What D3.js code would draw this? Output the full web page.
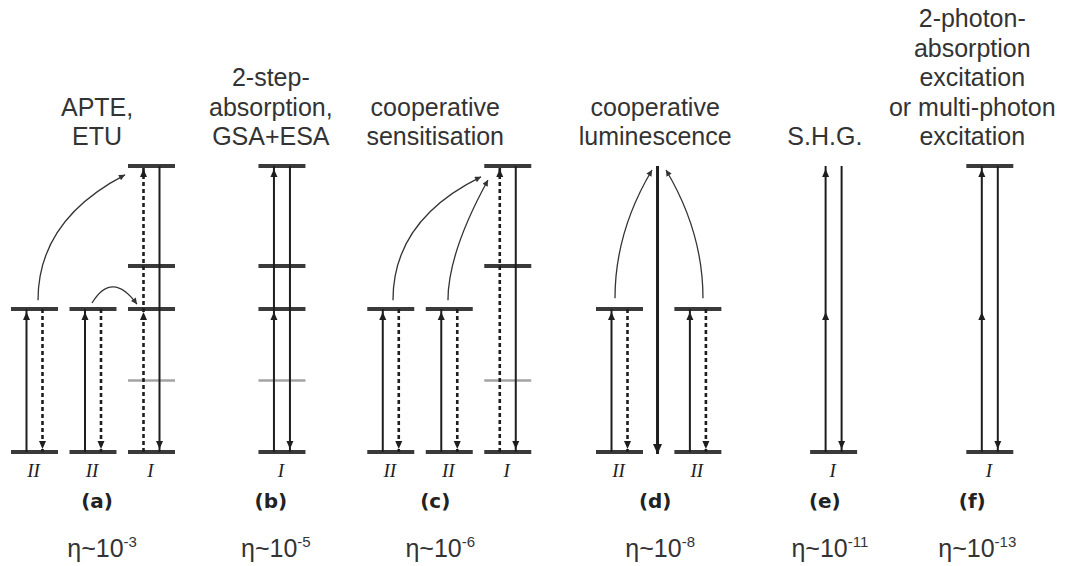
<!DOCTYPE html>
<html>
<head>
<meta charset="utf-8">
<script src="https://cdn.jsdelivr.net/npm/d3@7"></script>
<style>
  body { margin: 0; background: #fff; }
  .title { font-family: "Liberation Sans", Arial, sans-serif; font-size: 25px; fill: #333; }
  .eta { font-family: "Liberation Sans", Arial, sans-serif; font-size: 25px; fill: #333; }
  .panel-label { font-family: "DejaVu Sans", sans-serif; font-weight: bold; font-size: 20px; fill: #222; }
  .ion { font-family: "Liberation Serif", serif; font-style: italic; font-size: 19px; fill: #222; }
</style>
</head>
<body>
<svg class="levels-frame"></svg>
<script>
// panels
const panelLabels = ["(a)", "(b)", "(c)", "(d)", "(e)", "(f)"];
const panelTitles = [
  ["APTE,", "ETU"],
  ["2-step-", "absorption,", "GSA+ESA"],
  ["cooperative", "sensitisation"],
  ["cooperative", "luminescence"],
  ["S.H.G."],
  ["2-photon-", "absorption", "excitation", "or multi-photon", "excitation"]
];
const efficiencyExp = ["-3", "-5", "-6", "-8", "-11", "-13"];
const panelSlots = [1.07, 4.04, 6.85, 10.61, 13.51, 16.03];

// ion columns (slot = place along the row, levels = relative energies)
const columnIons = ["II", "II", "I", "I", "II", "II", "I", "II", "II", "", "I", "I"];
const columnSlots = [0, 1, 2, 4.23, 6.09, 7.09, 8.09, 10, 11.34, 10.65, 13.66, 16.33];
const columnLevels = [
  [0, 0.5], [0, 0.5], [0, 0.25, 0.5, 0.65, 1],
  [0, 0.25, 0.5, 0.65, 1],
  [0, 0.5], [0, 0.5], [0, 0.25, 0.65, 1],
  [0, 0.5], [0, 0.5], [],
  [0],
  [0, 1]
];
const weakLevels = [0.25];

// radiative / absorption transitions
const transitions = [
  {col: 0, lane: -1, from: 0, to: 0.5, kind: "solid", heads: [0.5]},
  {col: 0, lane: 1, from: 0.5, to: 0, kind: "dashed", heads: [0]},
  {col: 1, lane: -1, from: 0, to: 0.5, kind: "solid", heads: [0.5]},
  {col: 1, lane: 1, from: 0.5, to: 0, kind: "dashed", heads: [0]},
  {col: 2, lane: -1, from: 0, to: 1, kind: "dashed", heads: [0.5, 1]},
  {col: 2, lane: 1, from: 1, to: 0, kind: "solid", heads: [0]},
  {col: 3, lane: -1, from: 0, to: 1, kind: "solid", heads: [0.5, 1]},
  {col: 3, lane: 1, from: 1, to: 0, kind: "solid", heads: [0]},
  {col: 4, lane: -1, from: 0, to: 0.5, kind: "solid", heads: [0.5]},
  {col: 4, lane: 1, from: 0.5, to: 0, kind: "dashed", heads: [0]},
  {col: 5, lane: -1, from: 0, to: 0.5, kind: "solid", heads: [0.5]},
  {col: 5, lane: 1, from: 0.5, to: 0, kind: "dashed", heads: [0]},
  {col: 6, lane: -1, from: 0, to: 1, kind: "dashed", heads: [1]},
  {col: 6, lane: 1, from: 1, to: 0, kind: "solid", heads: [0]},
  {col: 7, lane: -1, from: 0, to: 0.5, kind: "solid", heads: [0.5]},
  {col: 7, lane: 1, from: 0.5, to: 0, kind: "dashed", heads: [0]},
  {col: 8, lane: -1, from: 0, to: 0.5, kind: "solid", heads: [0.5]},
  {col: 8, lane: 1, from: 0.5, to: 0, kind: "dashed", heads: [0]},
  {col: 9, lane: 0, from: 1, to: 0, kind: "heavy", heads: [0]},
  {col: 10, lane: -1, from: 0, to: 1, kind: "solid", heads: [0.5, 1]},
  {col: 10, lane: 1, from: 1, to: 0, kind: "solid", heads: [0]},
  {col: 11, lane: -1, from: 0, to: 1, kind: "solid", heads: [0.5, 1]},
  {col: 11, lane: 1, from: 1, to: 0, kind: "solid", heads: [0]}
];

// energy transfers [slot, energy]
const transfers = [
  {from: [0.06, 0.531], ctrl: [0.06, 0.811], to: [1.547, 0.969]},
  {from: [0.983, 0.521], ctrl: [1.325, 0.636], to: [1.752, 0.517]},
  {from: [6.128, 0.531], ctrl: [6.128, 0.811], to: [7.632, 0.962]},
  {from: [7.068, 0.531], ctrl: [7.068, 0.696], to: [7.752, 0.951]},
  {from: [9.923, 0.538], ctrl: [9.923, 0.769], to: [10.556, 0.986]},
  {from: [11.427, 0.538], ctrl: [11.427, 0.769], to: [10.795, 0.986]}
];

const width = 1084, height = 566;
const levelHalf = 23.5, laneGap = 8;

const svg = d3.select(".levels-frame")
  .attr("width", width)
  .attr("height", height);

const x = d3.scaleLinear().domain([0, 1]).range([34.5, 93]);
const y = d3.scaleLinear().domain([0, 1]).range([452, 166]);

svg.append("defs").append("marker")
  .attr("id", "tip")
  .attr("viewBox", "0 0 10 10")
  .attr("refX", 10).attr("refY", 5)
  .attr("markerUnits", "userSpaceOnUse")
  .attr("markerWidth", 8).attr("markerHeight", 6)
  .attr("orient", "auto")
  .append("path")
  .attr("d", "M0,0L10,5L0,10z")
  .attr("fill", "#333");

// titles
panelTitles.forEach((lines, i) => {
  const t = svg.append("text")
    .attr("class", "title")
    .attr("text-anchor", "middle");
  lines.forEach((line, j) => {
    t.append("tspan")
      .attr("x", x(panelSlots[i]))
      .attr("y", 145 - (lines.length - 1 - j) * 29.5)
      .text(line);
  });
});

// levels
const levelRows = [];
columnLevels.forEach((lv, c) => lv.forEach(e => levelRows.push({c: c, e: e})));

svg.append("g").selectAll("line")
  .data(levelRows)
  .enter().append("line")
  .attr("x1", d => x(columnSlots[d.c]) - levelHalf)
  .attr("x2", d => x(columnSlots[d.c]) + levelHalf)
  .attr("y1", d => y(d.e))
  .attr("y2", d => y(d.e))
  .attr("stroke", d => weakLevels.includes(d.e) ? "#a3a3a3" : "#3a3a3a")
  .attr("stroke-width", d => weakLevels.includes(d.e) ? 2.5 : 4);

// transitions
const arrows = svg.append("g");
arrows.selectAll("line")
  .data(transitions)
  .enter().append("line")
  .attr("x1", d => x(columnSlots[d.col]) + d.lane * laneGap)
  .attr("x2", d => x(columnSlots[d.col]) + d.lane * laneGap)
  .attr("y1", d => y(d.from))
  .attr("y2", d => y(d.to) + (d.kind == "heavy" ? 2 : 0))
  .attr("stroke", "#1e1e1e")
  .attr("stroke-width", d => d.kind == "heavy" ? 3 : (d.kind == "dashed" ? 2.6 : 2))
  .attr("stroke-dasharray", d => d.kind == "dashed" ? "4,3" : null);

const heads = [];
transitions.forEach(d => d.heads.forEach(e => heads.push({
  cx: x(columnSlots[d.col]) + d.lane * laneGap,
  e: e,
  up: d.to > d.from,
  heavy: d.kind == "heavy"
})));

arrows.selectAll("path")
  .data(heads)
  .enter().append("path")
  .attr("fill", "#1e1e1e")
  .attr("d", d => {
    const w = d.heavy ? 4.5 : 3.5, len = d.heavy ? 10 : 8;
    const tip = d.up ? y(d.e) + 3 : y(d.e) + (d.heavy ? 2 : -3);
    const base = d.up ? tip + len : tip - len;
    return "M" + d.cx + "," + tip + "L" + (d.cx - w) + "," + base + "L" + (d.cx + w) + "," + base + "Z";
  });

// energy transfer curves
svg.append("g").selectAll("path")
  .data(transfers)
  .enter().append("path")
  .attr("fill", "none")
  .attr("stroke", "#333")
  .attr("stroke-width", 1.3)
  .attr("marker-end", "url(#tip)")
  .attr("d", d => "M" + x(d.from[0]) + "," + y(d.from[1])
    + "Q" + x(d.ctrl[0]) + "," + y(d.ctrl[1])
    + " " + x(d.to[0]) + "," + y(d.to[1]));

// ion labels
svg.append("g").selectAll("text")
  .data(columnIons.map((ion, c) => ({ion: ion, c: c})).filter(d => d.ion))
  .enter().append("text")
  .attr("class", "ion")
  .attr("text-anchor", "middle")
  .attr("x", d => x(columnSlots[d.c]) - 1)
  .attr("y", 477)
  .text(d => d.ion);

// panel letters
svg.append("g").selectAll("text")
  .data(panelLabels)
  .enter().append("text")
  .attr("class", "panel-label")
  .attr("text-anchor", "middle")
  .attr("x", (d, i) => x(panelSlots[i]))
  .attr("y", 508)
  .text(d => d);

// efficiencies
efficiencyExp.forEach((exp, i) => {
  const t = svg.append("text")
    .attr("class", "eta")
    .attr("text-anchor", "middle")
    .attr("x", x(panelSlots[i]) + 5)
    .attr("y", 557);
  t.append("tspan").text("η~10");
  t.append("tspan")
    .attr("dy", -10)
    .attr("font-size", 15)
    .text(exp);
});
</script>
</body>
</html>
